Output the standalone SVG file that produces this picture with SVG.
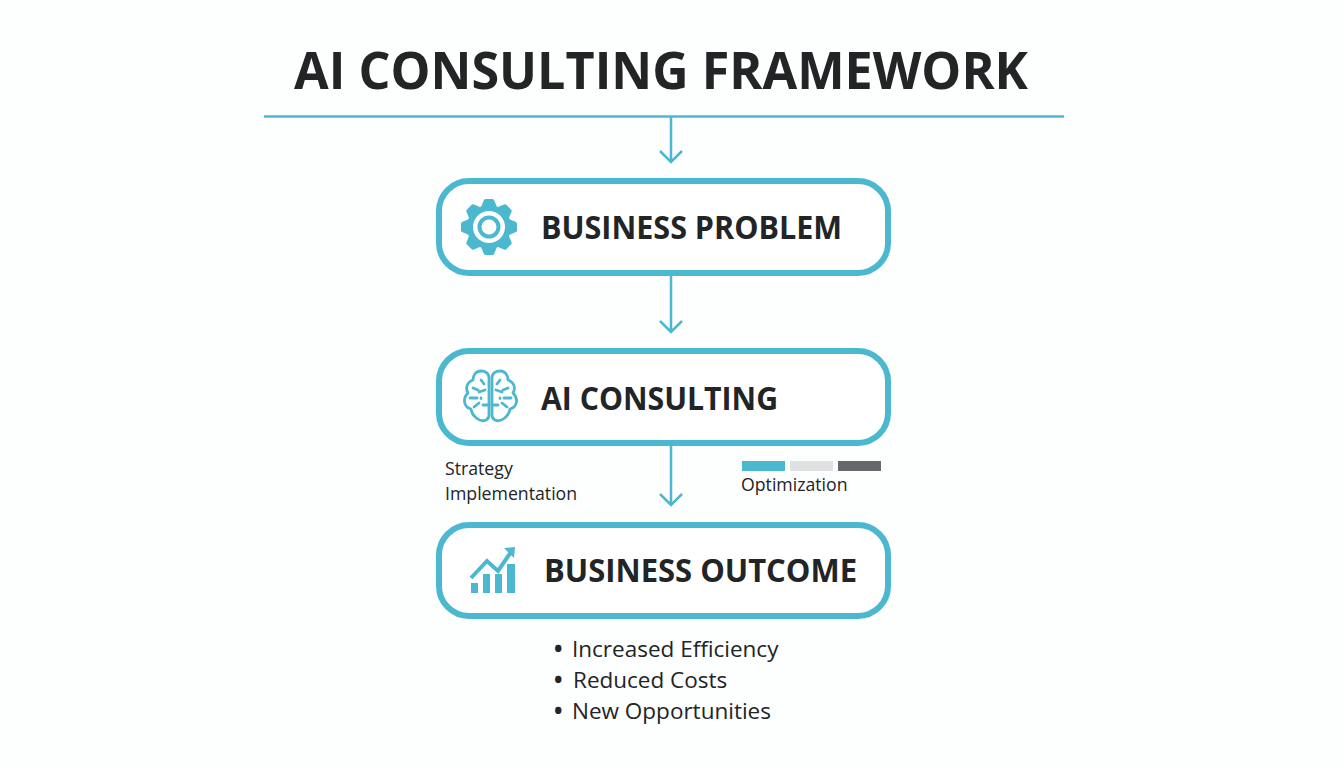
<svg xmlns="http://www.w3.org/2000/svg" width="1344" height="768" viewBox="0 0 1344 768">
<style>
text{font-family:"Open Sans","Noto Sans","Liberation Sans",sans-serif;fill:#222426}
.h{font-weight:700;font-size:32px}
.s{font-size:17.700px}
.b{font-size:22.500px}
.d{font-weight:700}
.box{fill:#fff;stroke:#4cb8d0;stroke-width:6}
.c{fill:none;stroke:#4cb8d0;stroke-width:2.500}
.i{fill:none;stroke:#4cb8d0;stroke-width:2.800;stroke-linecap:round;stroke-linejoin:round}
.t{fill:#4cb8d0}
</style>
<defs>
<path id="tooth" d="M-8 -20L-5 -27Q-4.500 -28 -3.500 -28H3.500Q4.500 -28 5 -27L8 -20Z"/>
</defs>
<rect width="1344" height="768" fill="#fdfefe"/>
<text id="title" x="294" y="89" font-size="52" font-weight="700" textLength="734" lengthAdjust="spacingAndGlyphs">AI CONSULTING FRAMEWORK</text>
<line x1="264" y1="116.500" x2="1064" y2="116.500" stroke="#4cb8d0" stroke-width="2.500"/>
<g id="connectors">
<path class="c" d="M671 117V162M660 151L671 162L682 151"/>
<path class="c" d="M671 276V332M660 321L671 332L682 321"/>
<path class="c" d="M671 446V505M660 494L671 505L682 494"/>
</g>
<g id="node-business-problem">
<rect class="box" x="439" y="181" width="449" height="92" rx="30"/>
<g transform="translate(489 227)">
<circle class="t" r="22"/>
<g class="t">
<use href="#tooth"/>
<use href="#tooth" transform="rotate(45)"/>
<use href="#tooth" transform="rotate(90)"/>
<use href="#tooth" transform="rotate(135)"/>
<use href="#tooth" transform="rotate(180)"/>
<use href="#tooth" transform="rotate(225)"/>
<use href="#tooth" transform="rotate(270)"/>
<use href="#tooth" transform="rotate(315)"/>
</g>
<circle r="16" fill="#fff"/>
<circle r="9.500" fill="none" stroke="#4cb8d0" stroke-width="4"/>
</g>
<text class="h" x="541" y="239" textLength="301" lengthAdjust="spacingAndGlyphs">BUSINESS PROBLEM</text>
</g>
<g id="node-ai-consulting">
<rect class="box" x="439" y="351" width="449" height="92" rx="30"/>
<g class="i">
<path d="M489 378C489 373 485 371 481 371C476 371 473 375 473 380C467 382 465 388 468 393C462 399 464 407 471 409C472 416 480 423 486 420C488 419 489 417 489 415Z"/>
<path d="M492 378C492 373 496 371 500 371C505 371 508 375 508 380C514 382 516 388 513 393C519 399 517 407 510 409C509 416 501 423 495 420C493 419 492 417 492 415Z"/>
<path d="M473 388L478 390M470 398L477 398M474 407L479 403M481 380L484 384M479 392L485 390M481 398V398.500M483 405L489 405"/>
<path d="M508 388L503 390M511 398L504 398M507 407L502 403M500 380L497 384M502 392L496 390M500 398V398.500M498 405L492 405"/>
</g>
<text class="h" x="541" y="410" textLength="237" lengthAdjust="spacingAndGlyphs">AI CONSULTING</text>
</g>
<g id="note-left">
<text class="s" x="445" y="475">Strategy</text>
<text class="s" x="445" y="500">Implementation</text>
</g>
<g id="note-right">
<rect x="742" y="461" width="43" height="10" fill="#4cb8d0"/>
<rect x="790" y="461" width="43" height="10" fill="#dfe1e2"/>
<rect x="838" y="461" width="43" height="10" fill="#66686b"/>
<text class="s" x="741" y="491">Optimization</text>
</g>
<g id="node-business-outcome">
<rect class="box" x="439" y="525" width="449" height="91" rx="30"/>
<g class="t">
<rect x="471" y="583" width="7" height="10"/>
<rect x="483" y="574" width="7" height="19"/>
<rect x="495" y="574" width="7" height="19"/>
<rect x="507" y="564" width="8" height="29"/>
<path d="M504 548L515 547L514 558Z"/>
</g>
<path d="M471 578L487 561L498 571L511 552" fill="none" stroke="#4cb8d0" stroke-width="4"/>
<text class="h" x="544" y="582" textLength="313" lengthAdjust="spacingAndGlyphs">BUSINESS OUTCOME</text>
</g>
<g id="outcomes">
<text class="b" y="657"><tspan class="d" x="554">•</tspan><tspan x="572">Increased Efficiency</tspan></text>
<text class="b" y="688"><tspan class="d" x="554">•</tspan><tspan x="573">Reduced Costs</tspan></text>
<text class="b" y="719"><tspan class="d" x="554">•</tspan><tspan x="572">New Opportunities</tspan></text>
</g>
</svg>
